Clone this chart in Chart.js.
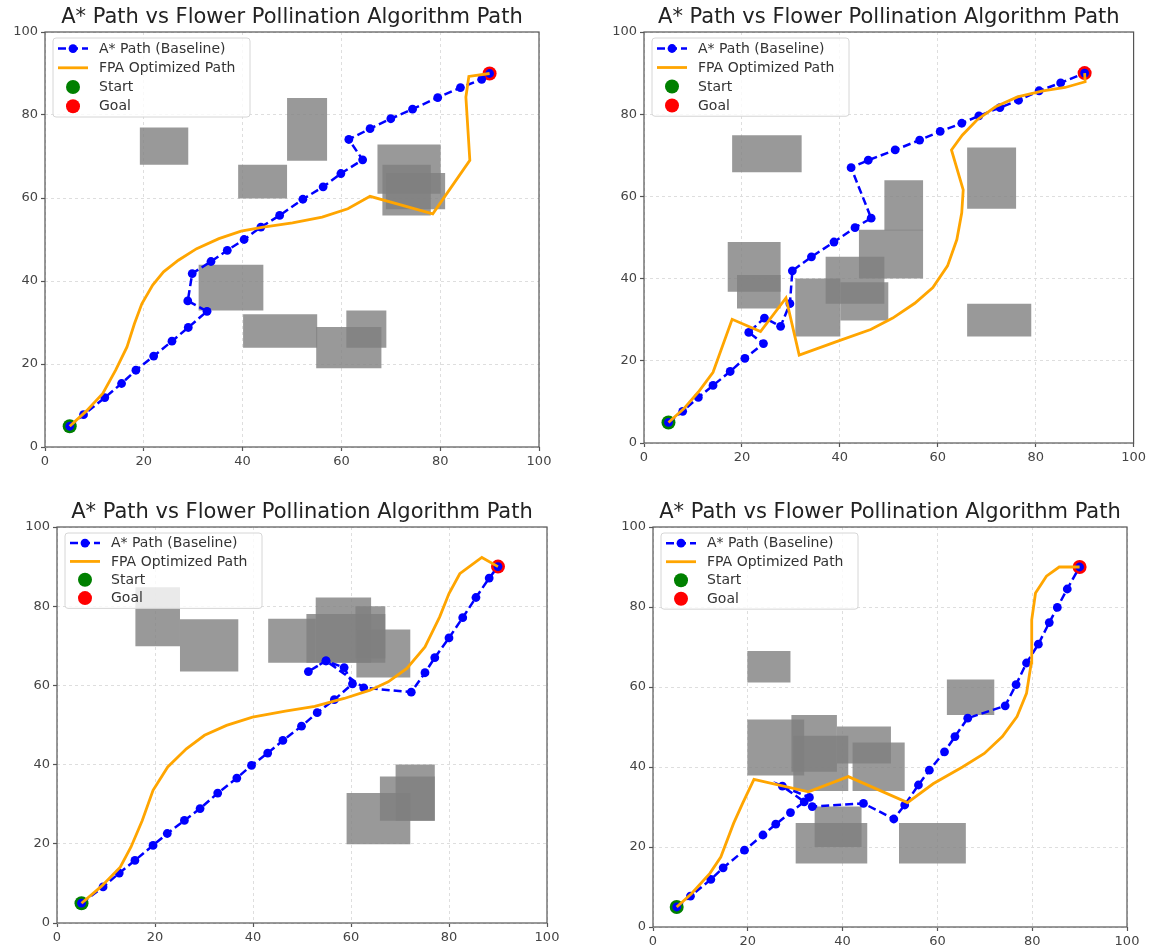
<!DOCTYPE html>
<html>
<head>
<meta charset="utf-8">
<script src="https://cdn.jsdelivr.net/npm/chart.js@4.4.1/dist/chart.umd.min.js"></script>
<style>
  html, body { margin: 0; padding: 0; background: #fff; }
  #wrap { position: relative; width: 1149px; height: 947px; }
  canvas { position: absolute; }
</style>
</head>
<body>
<div id="wrap">
  <canvas id="c1" width="575" height="470" style="left:0;top:0"></canvas>
  <canvas id="c2" width="574" height="470" style="left:575px;top:0"></canvas>
  <canvas id="c3" width="575" height="477" style="left:0;top:470px"></canvas>
  <canvas id="c4" width="574" height="477" style="left:575px;top:470px"></canvas>
</div>
<script>
// Shared values
const titleText = 'A* Path vs Flower Pollination Algorithm Path';
const legendLabels = ['A* Path (Baseline)', 'FPA Optimized Path', 'Start', 'Goal'];
const axisTicks = [0, 20, 40, 60, 80, 100];
const startPoint = [5, 5];
const goalPoint = [90, 90];

// Plot 1 (top left)
const p1AstarX = [5, 7.8, 12.1, 15.5, 18.4, 22.0, 25.7, 29.0, 32.8, 28.9, 29.8, 33.6, 36.9, 40.3, 43.7, 47.5, 52.2, 56.3, 59.9, 64.3, 61.5, 65.8, 70.0, 74.4, 79.5, 84.1, 88.4, 90];
const p1AstarY = [5, 7.8, 11.9, 15.3, 18.5, 21.9, 25.5, 28.8, 32.7, 35.2, 41.8, 44.7, 47.4, 50.0, 53.0, 55.8, 59.7, 62.7, 65.9, 69.2, 74.1, 76.7, 79.1, 81.4, 84.2, 86.6, 88.6, 90];
const p1FpaX = [5, 8.4, 11.7, 14.3, 16.6, 18.1, 19.6, 21.8, 24.0, 27.0, 30.7, 35.2, 39.7, 44.2, 50.1, 56.1, 61.3, 65.8, 78.5, 86.0, 85.2, 85.8, 90];
const p1FpaY = [5, 8.7, 12.9, 18.5, 24.1, 29.7, 34.5, 39.0, 42.2, 45.0, 47.8, 50.2, 52.0, 53.0, 54.0, 55.4, 57.4, 60.4, 56.2, 69.1, 84.3, 89.3, 90];
const p1Obstacles = [
  [19.2, 68, 29, 77], [49, 69, 57.1, 84.1], [39.1, 59.9, 49, 68],
  [67.3, 61, 80.1, 72.9], [68.3, 55.8, 78.1, 68], [69, 57.3, 81, 66],
  [31.1, 32.9, 44.2, 43.9], [40.1, 23.9, 55.1, 32], [54.9, 19, 68.1, 28.9], [61, 23.9, 69.1, 32.9]
];

// Plot 2 (top right)
const p2AstarX = [5, 7.9, 11.1, 14.1, 17.6, 20.6, 24.4, 21.4, 24.6, 27.9, 29.8, 30.3, 34.2, 38.8, 43.1, 46.4, 42.3, 45.8, 51.3, 56.3, 60.5, 64.9, 68.4, 72.7, 76.5, 80.7, 85.1, 90];
const p2AstarY = [5, 7.7, 11.1, 14.0, 17.4, 20.6, 24.2, 26.9, 30.4, 28.4, 33.9, 41.9, 45.3, 48.9, 52.4, 54.7, 67.0, 68.8, 71.3, 73.7, 75.8, 77.8, 79.6, 81.6, 83.4, 85.7, 87.6, 90];
const p2FpaX = [5, 8.1, 11.1, 14.1, 18.0, 23.8, 29.0, 31.7, 39.6, 46.3, 50.8, 55.3, 59.0, 62.0, 63.9, 64.9, 65.2, 62.8, 65.0, 68.0, 71.8, 76.3, 81.5, 86.0, 90.1, 90];
const p2FpaY = [5, 8.3, 12.4, 17.2, 30.1, 27.1, 35.3, 21.4, 24.8, 27.6, 30.4, 34.0, 37.8, 43.1, 49.5, 56.0, 61.6, 71.3, 74.9, 78.6, 81.8, 84.2, 85.7, 86.5, 87.9, 90];
const p2Obstacles = [
  [18, 65.9, 32.2, 74.9], [17.1, 36.8, 27.9, 48.9], [19, 32.7, 27.9, 40.9],
  [30.9, 25.9, 40.1, 40], [37.1, 33.9, 49.1, 45.3], [40.1, 29.8, 49.9, 39.1],
  [43.9, 40, 57, 51.9], [49.1, 51.7, 57, 63.9], [66, 57, 76, 71.9], [66, 25.9, 79.1, 33.9]
];

// Plot 3 (bottom left)
const p3AstarX = [5, 9.4, 12.7, 15.9, 19.6, 22.5, 26.0, 29.2, 32.8, 36.7, 39.7, 43.0, 46.1, 49.9, 53.1, 56.6, 60.3, 58.6, 54.9, 51.3, 54.9, 62.6, 72.3, 75.1, 77.1, 80.0, 82.8, 85.5, 88.2, 90];
const p3AstarY = [5, 9.1, 12.6, 15.8, 19.6, 22.6, 25.9, 28.9, 32.8, 36.6, 39.8, 42.9, 46.1, 49.7, 53.1, 56.4, 60.4, 64.5, 66.2, 63.5, 66.2, 59.4, 58.3, 63.2, 67.0, 72.0, 77.1, 82.2, 87.1, 90];
const p3FpaX = [5, 9.1, 12.9, 15.1, 17.4, 19.6, 22.6, 26.4, 30.1, 34.6, 39.9, 46.6, 52.6, 58.6, 63.9, 67.6, 71.4, 75.1, 78.1, 80.0, 82.2, 86.7, 90];
const p3FpaY = [5, 9.3, 14.1, 19.2, 25.9, 33.5, 39.4, 44.0, 47.4, 49.9, 52.0, 53.5, 54.7, 56.7, 58.8, 60.9, 64.3, 69.7, 77.3, 83.2, 88.2, 92.3, 90];
const p3Obstacles = [
  [16, 69.9, 25.1, 84.8], [25.1, 63.5, 37, 76.7], [43.1, 65.7, 52.8, 76.8],
  [50.9, 65.7, 67, 78], [52.8, 65.7, 64.1, 82.2], [60.9, 66.8, 67, 80],
  [61.1, 62, 72.1, 74.1], [59.1, 19.9, 72.1, 32.8], [65.9, 25.8, 77.1, 37], [69.1, 25.8, 77.1, 40]
];

// Plot 4 (bottom right)
const p4AstarX = [5, 7.9, 12.2, 14.8, 19.3, 23.2, 25.9, 29.0, 31.9, 27.3, 33.0, 33.6, 44.4, 50.8, 53.1, 56.0, 58.3, 61.5, 63.7, 66.4, 74.3, 76.6, 78.8, 81.3, 83.6, 85.3, 87.4, 90];
const p4AstarY = [5, 7.7, 11.9, 14.8, 19.2, 23.0, 25.7, 28.6, 31.3, 35.2, 32.4, 30.1, 30.9, 27.0, 30.5, 35.5, 39.2, 43.8, 47.6, 52.2, 55.3, 60.6, 66.0, 70.7, 76.1, 79.9, 84.5, 90];
const p4FpaX = [5, 8.1, 12.0, 14.3, 17.0, 18.9, 21.3, 32.8, 41.2, 53.7, 59.1, 65.3, 69.9, 73.7, 76.8, 78.8, 79.8, 79.9, 80.7, 83.0, 85.7, 90];
const p4FpaY = [5, 8.3, 13.4, 17.5, 25.9, 30.9, 36.9, 33.8, 37.6, 31.1, 35.8, 40.0, 43.4, 47.6, 52.6, 58.4, 66.0, 76.8, 83.5, 87.7, 90.0, 90];
const p4Obstacles = [
  [19.9, 61.1, 29, 69], [19.9, 37.9, 31.9, 51.9], [29.2, 38.8, 38.8, 53],
  [29.6, 34, 41.2, 47.8], [38.8, 40.9, 50.2, 50.1], [42.1, 34, 53.1, 46.1],
  [34.1, 20, 44, 30.1], [30.1, 15.9, 45.2, 26], [51.9, 15.9, 66, 26], [62, 53, 72, 61.9]
];

const BLUE = '#0000ff';
const ORANGE = '#ffa500';
const GREEN = '#008000';
const RED = '#ff0000';
const OBSTACLE = 'rgba(128,128,128,0.8)';
const FONT = '"DejaVu Sans", Arial, sans-serif';

const toPoints = (xs, ys) => xs.map((x, i) => ({ x, y: ys[i] }));

// rectangle outline as a closed polygon filled by the library
const rectPoints = ([x0, y0, x1, y1]) => [
  { x: x0, y: y0 }, { x: x1, y: y0 }, { x: x1, y: y1 }, { x: x0, y: y1 }, { x: x0, y: y0 }
];

// frame around the axes plus a matplotlib-like legend
const framePlugin = {
  id: 'frameAndLegend',
  afterDraw(chart) {
    const { ctx, chartArea: a } = chart;
    ctx.save();
    ctx.strokeStyle = '#555';
    ctx.lineWidth = 1.2;
    ctx.setLineDash([]);
    ctx.strokeRect(a.left, a.top, a.right - a.left, a.bottom - a.top);

    const s = (a.bottom - a.top) / 415;
    const bx = a.left + 8, by = a.top + 6, bw = 197, bh = 79 * s;
    ctx.fillStyle = 'rgba(255,255,255,0.8)';
    ctx.strokeStyle = '#d6d6d6';
    ctx.lineWidth = 1;
    ctx.beginPath();
    ctx.roundRect(bx, by, bw, bh, 3);
    ctx.fill();
    ctx.stroke();

    ctx.font = '14px ' + FONT;
    ctx.textBaseline = 'middle';
    ctx.textAlign = 'left';
    legendLabels.forEach((label, i) => {
      const y = by + 10.6 * s + i * 19.2 * s;
      const hx0 = bx + 5, hx1 = bx + 35, hc = (hx0 + hx1) / 2;
      if (i === 0) {
        ctx.strokeStyle = BLUE;
        ctx.lineWidth = 2.5;
        ctx.setLineDash([8, 4]);
        ctx.beginPath(); ctx.moveTo(hx0, y); ctx.lineTo(hx1, y); ctx.stroke();
        ctx.setLineDash([]);
        ctx.fillStyle = BLUE;
        ctx.beginPath(); ctx.arc(hc, y, 4.4, 0, Math.PI * 2); ctx.fill();
      } else if (i === 1) {
        ctx.strokeStyle = ORANGE;
        ctx.lineWidth = 2.8;
        ctx.beginPath(); ctx.moveTo(hx0, y); ctx.lineTo(hx1, y); ctx.stroke();
      } else {
        ctx.fillStyle = i === 2 ? GREEN : RED;
        ctx.beginPath(); ctx.arc(hc, y, 7, 0, Math.PI * 2); ctx.fill();
      }
      ctx.fillStyle = '#333';
      ctx.fillText(label, bx + 46, y + 0.5);
    });
    ctx.restore();
  }
};

const makeChart = (id, astarX, astarY, fpaX, fpaY, obstacles, pad) => {
  const datasets = [
    {
      label: legendLabels[1], data: toPoints(fpaX, fpaY),
      borderColor: ORANGE, borderWidth: 2.8, pointRadius: 0, fill: false, tension: 0
    },
    {
      label: legendLabels[0], data: toPoints(astarX, astarY),
      borderColor: BLUE, borderWidth: 2.5, borderDash: [8, 4], fill: false, tension: 0,
      pointRadius: 4.4, pointBackgroundColor: BLUE, pointBorderColor: BLUE, pointBorderWidth: 0
    },
    {
      label: legendLabels[3], data: [{ x: goalPoint[0], y: goalPoint[1] }], showLine: false,
      pointRadius: 7, pointBackgroundColor: RED, pointBorderColor: RED, pointBorderWidth: 0
    },
    {
      label: legendLabels[2], data: [{ x: startPoint[0], y: startPoint[1] }], showLine: false,
      pointRadius: 7, pointBackgroundColor: GREEN, pointBorderColor: GREEN, pointBorderWidth: 0
    }
  ];
  obstacles.forEach((r, i) => {
    datasets.push({
      label: 'obstacle ' + (i + 1), data: rectPoints(r), fill: 'shape',
      backgroundColor: OBSTACLE, borderColor: 'rgba(0,0,0,0)', borderWidth: 0, pointRadius: 0, tension: 0
    });
  });

  const axis = (isX) => ({
    type: 'linear', min: 0, max: 100,
    afterBuildTicks: (scale) => { scale.ticks = axisTicks.map(v => ({ value: v })); },
    afterFit: (scale) => { if (isX) scale.height = 20; else scale.width = 40; },
    grid: {
      color: '#dedede', lineWidth: 1, drawTicks: true, tickLength: 4,
      tickColor: '#555', tickWidth: 1.2, tickBorderDash: []
    },
    border: { display: false, dash: [3, 3] },
    ticks: { color: '#444', padding: 3, font: { family: FONT, size: 13 }, maxRotation: 0 }
  });

  return new Chart(document.getElementById(id), {
    type: 'line',
    data: { datasets },
    options: {
      responsive: false,
      animation: false,
      layout: { padding: pad },
      scales: { x: axis(true), y: axis(false) },
      plugins: {
        legend: { display: false },
        tooltip: { enabled: false },
        title: {
          display: true, text: titleText, fullSize: false, color: '#222',
          font: { family: FONT, size: 21, weight: 'normal', lineHeight: 1.2 },
          padding: { top: 0, bottom: 1.5 }
        }
      }
    },
    plugins: [framePlugin]
  });
};

makeChart('c1', p1AstarX, p1AstarY, p1FpaX, p1FpaY, p1Obstacles, { left: 5, right: 36, top: 5.3, bottom: 3 });
makeChart('c2', p2AstarX, p2AstarY, p2FpaX, p2FpaY, p2Obstacles, { left: 29, right: 15, top: 5.3, bottom: 7 });
makeChart('c3', p3AstarX, p3AstarY, p3FpaX, p3FpaY, p3Obstacles, { left: 17, right: 28, top: 30.3, bottom: 4 });
makeChart('c4', p4AstarX, p4AstarY, p4FpaX, p4FpaY, p4Obstacles, { left: 38, right: 22, top: 30.3, bottom: 0 });
</script>
</body>
</html>
